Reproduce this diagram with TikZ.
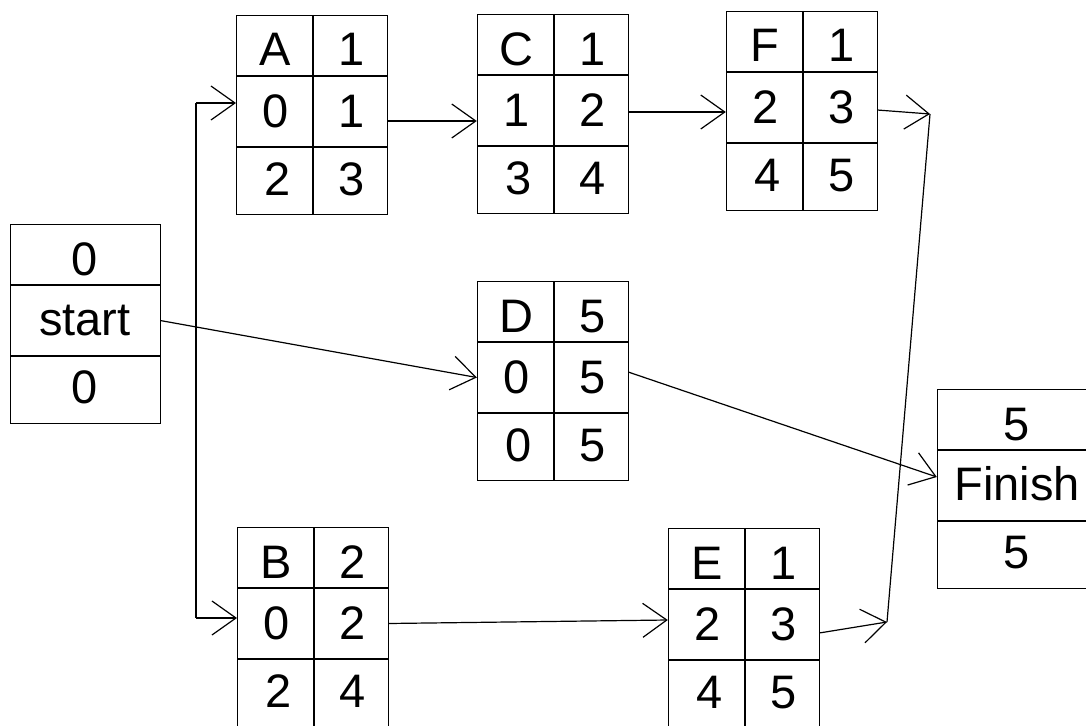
\documentclass[tikz,border=0pt]{standalone}
\usepackage{fontspec}
\setmainfont{Liberation Sans}
\usetikzlibrary{arrows.meta}
\tikzset{%
    every box/.style={
            rectangle,
            draw,
            line width=1.3pt,
            minimum height=199pt,
            inner sep=0pt
        },
    every row/.style={
            rectangle,
            draw=none,
            minimum height=71pt,
            inner sep=0pt
        },
    every cell/.style={
            inner sep=0pt,
            anchor=base,
            font=\fontsize{47}{56}\selectfont
        },
    every link/.style={
            line width=1.2pt
        },
}

\begin{document}
\begin{tikzpicture}[x=1pt, y=-1pt, >={Straight Barb[length=24pt,width=34pt]}]

        \useasboundingbox (0,0) rectangle (1086,725);

        \foreach \n/\x/\y/\d/\es/\ef/\ls/\lf in {A/236/15/1/0/1/2/3, C/477/14/1/1/2/3/4, F/726/11/1/2/3/4/5, D/477/281/5/0/5/0/5, B/237/527/2/0/2/2/4, E/668/528/1/2/3/4/5}
        {
        \node [every box/.try, minimum width=151pt, anchor=north west] (act-\n) at (\x,\y) {};
        \draw [line width=1.3pt] (\x,\y+61) -- ++(151,0) (\x,\y+132) -- ++(151,0) (\x+77,\y) -- ++(0,199);
        \node [every row/.try, minimum width=151pt] (act-\n-mid) at (\x+75.5,\y+96.5) {};
        \node [every cell/.try] (act-\n-name) at (\x+39,\y+51) {\n};
        \node [every cell/.try] (act-\n-dur) at (\x+116,\y+51) {\d};
        \node [every cell/.try] (act-\n-es) at (\x+40,\y+112) {\es};
        \node [every cell/.try] (act-\n-ef) at (\x+116,\y+112) {\ef};
        \node [every cell/.try] (act-\n-ls) at (\x+42,\y+180) {\ls};
        \node [every cell/.try] (act-\n-lf) at (\x+116,\y+180) {\lf};
        }

        \foreach \n/\x/\y/\w/\t/\v in {start/10/224/150/start/0, finish/937/389/160/Finish/5}
        {
        \node [every box/.try, minimum width=\w pt, anchor=north west] (\n) at (\x,\y) {};
        \draw [line width=1.3pt] (\x,\y+61) -- ++(\w,0) (\x,\y+132) -- ++(\w,0);
        \node [every row/.try, minimum width=\w pt] (\n-mid) at (\x+\w/2,\y+96.5) {};
        \node [every cell/.try] (\n-top) at (\x+\w/2,\y+51) {\v};
        \node [every cell/.try] (\n-name) at (\x+\w/2,\y+111) {\t};
        \node [every cell/.try] (\n-bot) at (\x+\w/2,\y+179) {\v};
        }

        \coordinate (trunk-top) at (196,103);
        \coordinate (trunk-bot) at (196,618);
        \coordinate (join-F) at (930,114);
        \coordinate (join-E) at (887,622);

        \draw [every link/.try] (trunk-top) -- (trunk-bot);
        \draw [every link/.try, ->] (trunk-top) -- (trunk-top -| act-A.west);
        \draw [every link/.try, ->] (trunk-bot) -- (trunk-bot -| act-B.west);
        \draw [every link/.try, ->] (start-mid.east) -- (act-D-mid.west);
        \draw [every link/.try, ->] ([yshift=-9.5pt]act-A-mid.east) -- ([yshift=-10.5pt]act-C-mid.west);
        \draw [every link/.try, ->] ([yshift=-1.5pt]act-C-mid.east) -- ([yshift=-4.5pt]act-F-mid.west);
        \draw [every link/.try, ->] ([yshift=-2.5pt]act-F-mid.east) -- (join-F);
        \draw [every link/.try, ->] ([yshift=5.5pt]act-D-mid.east) -- ([yshift=8.5pt]finish-mid.west);
        \draw [every link/.try, ->] (act-B-mid.east) -- ([yshift=4.5pt]act-E-mid.west);
        \draw [every link/.try, ->] ([yshift=-8.5pt]act-E-mid.east) -- (join-E);
        \draw [every link/.try] (join-E) -- (join-F);

\end{tikzpicture}
\end{document}
